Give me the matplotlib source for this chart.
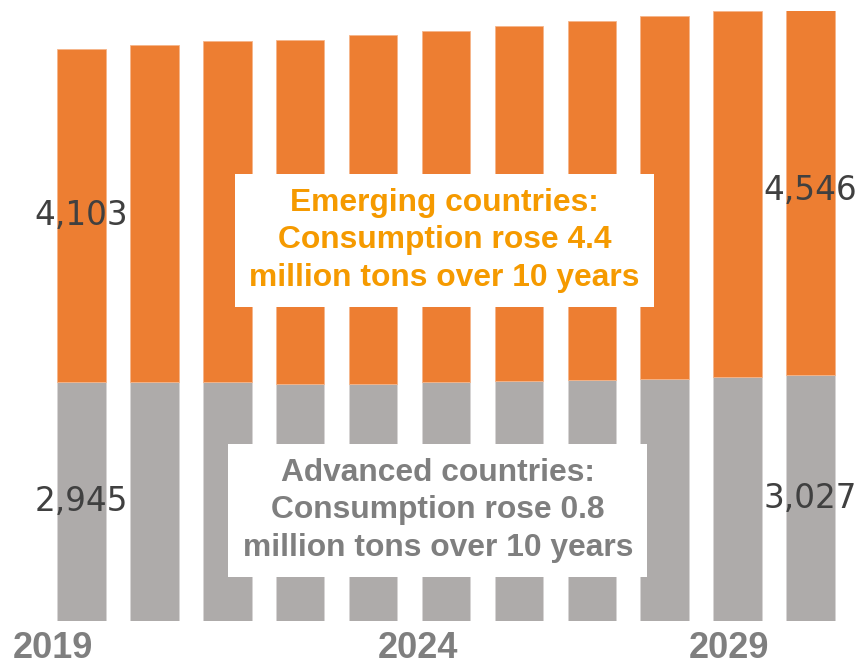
import matplotlib.pyplot as plt
import numpy as np

# consumption, 10,000 tons
years = list(range(2019, 2030))
advanced = [2945, 2945, 2945, 2924, 2924, 2941, 2957, 2974, 2986, 3003, 3027]
emerging = [4103, 4153, 4199, 4236, 4297, 4326, 4371, 4416, 4469, 4512, 4546]
tick_years = ['2019', '2024', '2029']
tick_pos = [-0.39, 4.62, 8.88]

note_emerging = 'Emerging countries:\nConsumption rose 4.4\nmillion tons over 10 years'
note_advanced = 'Advanced countries:\nConsumption rose 0.8\nmillion tons over 10 years'

c_adv = '#AEABAA'
c_emg = '#ED7E32'

plt.rcParams['font.family'] = ['Liberation Sans', 'DejaVu Sans']

fig = plt.figure(figsize=(8.59, 6.64), dpi=100)
ax = fig.add_axes([0, 43 / 664, 1, (664 - 43 - 11.3) / 664])

x = np.arange(len(years))
adv = np.array(advanced)
emg = np.array(emerging)

ax.bar(x, adv, width=0.665, color=c_adv, edgecolor='#D6D4D4', linewidth=0.6)
ax.bar(x, emg, bottom=adv, width=0.665, color=c_emg, edgecolor='#F5B58A', linewidth=0.6)

ax.set_xlim(-1.118, 10.665)
ax.set_ylim(0, 7513)

# value labels on first and last bars
for i in (0, len(years) - 1):
    ax.text(x[i], adv[i] / 2, f'{adv[i]:,}', ha='center', va='center',
            fontsize=23.5, color='#404040', family='DejaVu Sans')
    ax.text(x[i], adv[i] + emg[i] / 2, f'{emg[i]:,}', ha='center', va='center',
            fontsize=23.5, color='#404040', family='DejaVu Sans')

ax.text(4.98, 4690, note_emerging, ha='center', va='center', fontsize=22.9,
        fontweight='bold', color='#F59A00', linespacing=1.32,
        bbox=dict(boxstyle='square,pad=0.45', fc='white', ec='none'))
ax.text(4.89, 1365, note_advanced, ha='center', va='center', fontsize=22.9,
        fontweight='bold', color='#7F7F7F', linespacing=1.32,
        bbox=dict(boxstyle='square,pad=0.45', fc='white', ec='none'))

ax.set_xticks(tick_pos, tick_years)
ax.tick_params(axis='x', length=0, pad=7, labelsize=26, labelcolor='#7F7F7F')
for lbl in ax.get_xticklabels():
    lbl.set_fontweight('bold')
ax.set_yticks([])
for s in ax.spines.values():
    s.set_visible(False)

fig.savefig('out.png', dpi=100)
